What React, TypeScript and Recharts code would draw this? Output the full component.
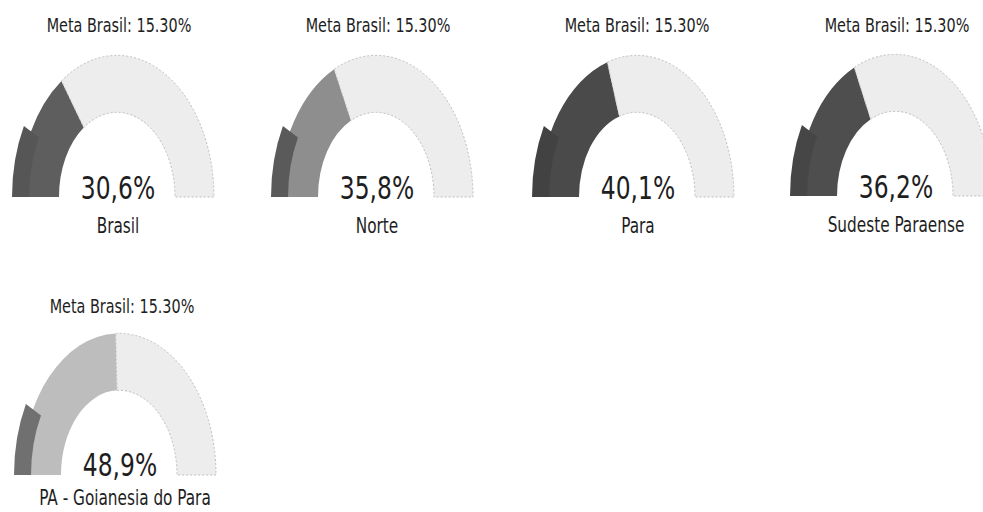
import React from "react";
import { PieChart, Pie, Cell } from "recharts";

const regions = ["Brasil", "Norte", "Para", "Sudeste Paraense", "PA - Goianesia do Para"];
const values = [30.6, 35.8, 40.1, 36.2, 48.9];
const valueLabels = ["30,6%", "35,8%", "40,1%", "36,2%", "48,9%"];
const meta = 15.3;
const metaLabel = "Meta Brasil: 15.30%";

const valueColors = ["#5e5e5e", "#8e8e8e", "#4a4a4a", "#4e4e4e", "#bdbdbd"];
const metaColors = ["#565656", "#5a5a5a", "#424242", "#464646", "#707070"];
const restColor = "#ededed";

const gauges = [
  { cx: 117, cy: 197, tx: 119, ty: 32, lx: 118, ly: 233 },
  { cx: 376, cy: 197, tx: 378, ty: 32, lx: 377, ly: 233 },
  { cx: 637, cy: 197, tx: 637, ty: 32, lx: 638, ly: 233 },
  { cx: 895, cy: 196, tx: 897, ty: 32, lx: 896, ly: 232 },
  { cx: 119, cy: 475, tx: 122, ty: 313, lx: 125, ly: 505 },
];

const K = 1.46;
const FONT = "'DejaVu Sans Condensed', 'DejaVu Sans', sans-serif";

const EllipseSector = (props: any) => {
  const { cx, cy, innerRadius, outerRadius, startAngle, endAngle, fill, stroke, strokeWidth, strokeDasharray } = props;
  const rad = Math.PI / 180;
  const pt = (r: number, a: number) => [cx + r * Math.cos(a * rad), cy - K * r * Math.sin(a * rad)];
  const large = Math.abs(startAngle - endAngle) > 180 ? 1 : 0;
  const sweep = startAngle > endAngle ? 1 : 0;
  const o1 = pt(outerRadius, startAngle);
  const o2 = pt(outerRadius, endAngle);
  const i1 = pt(innerRadius, startAngle);
  const i2 = pt(innerRadius, endAngle);
  const d = [
    `M ${o1[0]} ${o1[1]}`,
    `A ${outerRadius} ${outerRadius * K} 0 ${large} ${sweep} ${o2[0]} ${o2[1]}`,
    `L ${i2[0]} ${i2[1]}`,
    `A ${innerRadius} ${innerRadius * K} 0 ${large} ${1 - sweep} ${i1[0]} ${i1[1]}`,
    "Z",
  ].join(" ");
  return <path d={d} fill={fill} stroke={stroke} strokeWidth={strokeWidth} strokeDasharray={strokeDasharray} />;
};

const ST = (x: number, y: number, size: number, txt: string, key: string) => (
  <text
    key={key}
    transform={`translate(${x},${y}) scale(1,1.25)`}
    x={0}
    y={0}
    textAnchor="middle"
    fontFamily={FONT}
    fontSize={size}
    fill="#1e1e1e"
  >
    {txt}
  </text>
);

export default function App() {
  return (
    <div style={{ position: "absolute", left: 0, top: 0, width: 983, height: 512, background: "#fff" }}>
      <PieChart width={983} height={512} margin={{ top: 0, right: 0, bottom: 0, left: 0 }}>
        {values.map((v, i) => {
          const g = gauges[i];
          const data = [
            { name: regions[i], value: v },
            { name: "rest", value: 100 - v },
          ];
          return (
            <Pie
              key={`v${i}`}
              data={data}
              dataKey="value"
              cx={g.cx}
              cy={g.cy}
              startAngle={180}
              endAngle={0}
              innerRadius={58}
              outerRadius={97}
              isAnimationActive={false}
              stroke="none"
              shape={EllipseSector}
              inactiveShape={EllipseSector}
              activeShape={EllipseSector}
            >
              <Cell fill={valueColors[i]} />
              <Cell fill={restColor} stroke="#bdbdbd" strokeWidth={1} strokeDasharray="2 2" />
            </Pie>
          );
        })}
        {values.map((v, i) => {
          const g = gauges[i];
          const data = [
            { name: "meta", value: meta },
            { name: "gap", value: 100 - meta },
          ];
          return (
            <Pie
              key={`m${i}`}
              data={data}
              dataKey="value"
              cx={g.cx}
              cy={g.cy}
              startAngle={180}
              endAngle={0}
              innerRadius={88}
              outerRadius={105}
              isAnimationActive={false}
              stroke="none"
              shape={EllipseSector}
              inactiveShape={EllipseSector}
              activeShape={EllipseSector}
            >
              <Cell fill={metaColors[i]} />
              <Cell fill="none" />
            </Pie>
          );
        })}
        {gauges.map((g, i) => ST(g.tx, g.ty, 16, metaLabel, `t${i}`))}
        {gauges.map((g, i) => ST(g.cx + 1, g.cy + (i === 4 ? 1 : 2), 26, valueLabels[i], `val${i}`))}
        {gauges.map((g, i) => ST(g.lx, g.ly, 17, regions[i], `l${i}`))}
      </PieChart>
    </div>
  );
}
